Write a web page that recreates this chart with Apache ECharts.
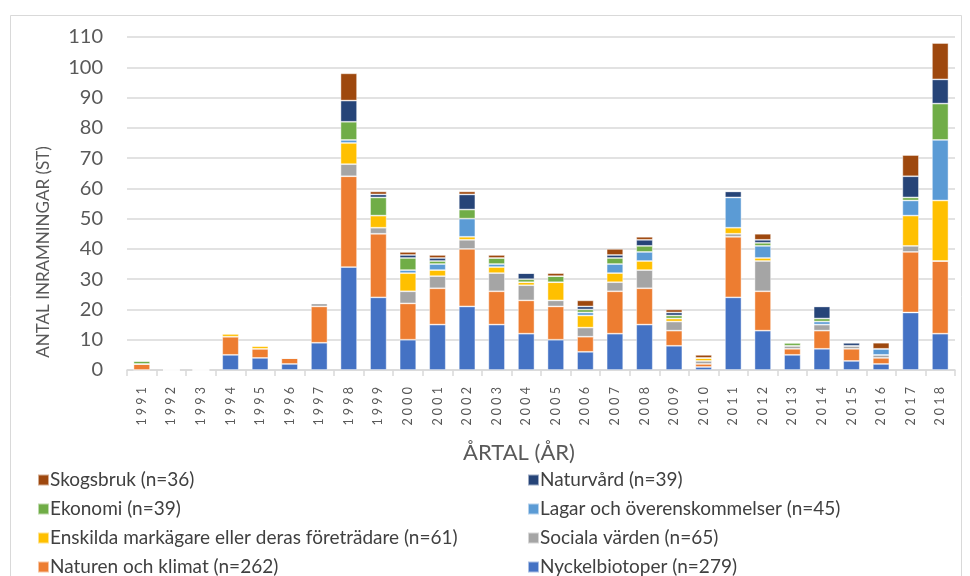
<!DOCTYPE html>
<html>
<head>
<meta charset="utf-8">
<script src="https://cdn.jsdelivr.net/npm/echarts@6/dist/echarts.min.js"></script>
<style>
  html, body { margin: 0; padding: 0; background: #fff; }
  #chart { width: 970px; height: 576px; }
</style>
</head>
<body>
<div id="chart"></div>
<script>
const years = ['1991', '1992', '1993', '1994', '1995', '1996', '1997', '1998', '1999', '2000',
  '2001', '2002', '2003', '2004', '2005', '2006', '2007', '2008', '2009', '2010',
  '2011', '2012', '2013', '2014', '2015', '2016', '2017', '2018'];

const nyckelbiotoper = [0, 0, 0, 5, 4, 2, 9, 34, 24, 10, 15, 21, 15, 12, 10, 6, 12, 15, 8, 1, 24, 13, 5, 7, 3, 2, 19, 12];
const naturenKlimat = [2, 0, 0, 6, 3, 2, 12, 30, 21, 12, 12, 19, 11, 11, 11, 5, 14, 12, 5, 1, 20, 13, 2, 6, 4, 2, 20, 24];
const socialaVarden = [0, 0, 0, 0, 0, 0, 1, 4, 2, 4, 4, 3, 6, 5, 2, 3, 3, 6, 3, 1, 1, 10, 1, 2, 1, 1, 2, 0];
const enskilda = [0, 0, 0, 1, 1, 0, 0, 7, 4, 6, 2, 1, 2, 1, 6, 4, 3, 3, 1, 1, 2, 1, 0, 0, 0, 0, 10, 20];
const lagar = [0, 0, 0, 0, 0, 0, 0, 1, 0, 1, 2, 6, 1, 0, 0, 1, 3, 3, 0, 0, 10, 4, 0, 1, 0, 2, 5, 20];
const ekonomi = [1, 0, 0, 0, 0, 0, 0, 6, 6, 4, 1, 3, 2, 1, 2, 1, 2, 2, 1, 0, 0, 1, 1, 1, 0, 0, 1, 12];
const naturvard = [0, 0, 0, 0, 0, 0, 0, 7, 1, 1, 1, 5, 0, 2, 0, 1, 1, 2, 1, 0, 2, 1, 0, 4, 1, 0, 7, 8];
const skogsbruk = [0, 0, 0, 0, 0, 0, 0, 9, 1, 1, 1, 1, 1, 0, 1, 2, 2, 1, 1, 1, 0, 2, 0, 0, 0, 2, 7, 12];

const yTicks = [0, 10, 20, 30, 40, 50, 60, 70, 80, 90, 100, 110];

// serier nerifrån och upp i stapeln
const serier = [
  { name: 'Nyckelbiotoper (n=279)', data: nyckelbiotoper, color: '#4472C4' },
  { name: 'Naturen och klimat (n=262)', data: naturenKlimat, color: '#ED7D31' },
  { name: 'Sociala värden (n=65)', data: socialaVarden, color: '#A5A5A5' },
  { name: 'Enskilda markägare eller deras företrädare (n=61)', data: enskilda, color: '#FFC000' },
  { name: 'Lagar och överenskommelser (n=45)', data: lagar, color: '#5B9BD5' },
  { name: 'Ekonomi (n=39)', data: ekonomi, color: '#70AD47' },
  { name: 'Naturvård (n=39)', data: naturvard, color: '#264478' },
  { name: 'Skogsbruk (n=36)', data: skogsbruk, color: '#9E480E' }
];

const fontFamily = 'Lato, "Open Sans", sans-serif';

const legendBas = {
  orient: 'vertical',
  top: 469,
  height: 130,
  padding: 0,
  itemWidth: 11,
  itemHeight: 11,
  itemGap: 7,
  icon: 'rect',
  selectedMode: false,
  textStyle: { fontFamily: fontFamily, fontSize: 19, color: '#404040', lineHeight: 22, padding: [0, 0, 0, -4] }
};

const chart = echarts.init(document.getElementById('chart'), null, { renderer: 'canvas' });

chart.setOption({
  animation: false,
  backgroundColor: '#fff',
  textStyle: { fontFamily: fontFamily },
  graphic: [{
    type: 'rect',
    shape: { x: 10.5, y: 15.5, width: 951, height: 600 },
    style: { fill: 'none', stroke: '#D9D9D9', lineWidth: 1 },
    silent: true
  }, {
    // y-axelns titel, placerad som i originalet (inte centrerad på ritytan)
    type: 'text',
    x: 44,
    y: 252,
    rotation: Math.PI / 2,
    style: {
      text: 'ANTAL INRAMNINGAR (ST)',
      fontFamily: fontFamily,
      fontSize: 17,
      fill: '#595959',
      align: 'center',
      verticalAlign: 'middle'
    },
    silent: true
  }],
  grid: { left: 127, right: 15, top: 37, bottom: 206, containLabel: false },
  legend: [
    Object.assign({}, legendBas, {
      left: 37,
      data: ['Skogsbruk (n=36)', 'Ekonomi (n=39)',
        'Enskilda markägare eller deras företrädare (n=61)', 'Naturen och klimat (n=262)']
    }),
    Object.assign({}, legendBas, {
      left: 527,
      data: ['Naturvård (n=39)', 'Lagar och överenskommelser (n=45)',
        'Sociala värden (n=65)', 'Nyckelbiotoper (n=279)']
    })
  ],
  xAxis: {
    type: 'category',
    data: years,
    name: 'ÅRTAL (ÅR)',
    nameLocation: 'middle',
    nameGap: 72,
    nameTextStyle: { fontSize: 22, color: '#595959', fontFamily: fontFamily, padding: [0, 44, 0, 0] },
    axisLine: { lineStyle: { color: '#D9D9D9', width: 1.5 } },
    axisTick: { show: true, length: 6, lineStyle: { color: '#D9D9D9', width: 1.5 } },
    axisLabel: {
      rotate: 90,
      margin: 17,
      fontSize: 12.5,
      color: '#595959',
      formatter: v => v.split('').join(' ')
    }
  },
  yAxis: {
    type: 'value',
    min: yTicks[0],
    max: yTicks[yTicks.length - 1],
    interval: 10,
    axisLine: { show: false },
    axisTick: { show: false },
    axisLabel: { fontSize: 20, color: '#595959', margin: 24 },
    splitLine: { lineStyle: { color: '#D9D9D9', width: 1.5 } }
  },
  series: serier.map(s => ({
    name: s.name,
    type: 'bar',
    stack: 'totalt',
    data: s.data,
    barWidth: '56%',
    itemStyle: { color: s.color, borderColor: 'rgba(255,255,255,0.55)', borderWidth: 0.8 }
  }))
});
</script>
</body>
</html>
